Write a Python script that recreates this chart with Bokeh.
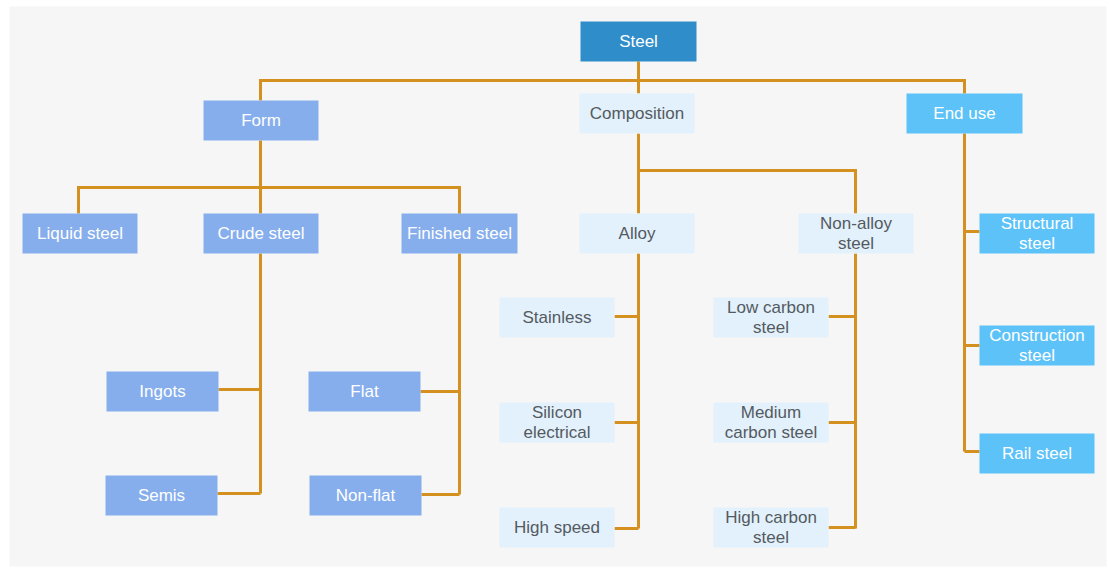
from bokeh.plotting import figure
from bokeh.models import Range1d, ColumnDataSource
from bokeh.core.properties import value
from bokeh.embed import file_html
from bokeh.resources import INLINE

# ---- data: tree nodes ----
labels = ["Steel", "Form", "Composition", "End use",
          "Liquid steel", "Crude steel", "Finished steel",
          "Alloy", "Non-alloy\nsteel",
          "Structural\nsteel", "Construction\nsteel", "Rail steel",
          "Ingots", "Semis", "Flat", "Non-flat",
          "Stainless", "Silicon\nelectrical", "High speed",
          "Low carbon\nsteel", "Medium\ncarbon steel", "High carbon\nsteel"]
parents = [None, "Steel", "Steel", "Steel",
           "Form", "Form", "Form",
           "Composition", "Composition",
           "End use", "End use", "End use",
           "Crude steel", "Crude steel", "Finished steel", "Finished steel",
           "Alloy", "Alloy", "Alloy",
           "Non-alloy\nsteel", "Non-alloy\nsteel", "Non-alloy\nsteel"]
styles = ["root", "form", "comp", "end",
          "form", "form", "form",
          "comp", "comp",
          "end", "end", "end",
          "form", "form", "form", "form",
          "comp", "comp", "comp",
          "comp", "comp", "comp"]

# ---- layout (pixel positions of box left/top) ----
box_left = [580, 203, 579, 906,
            22, 203, 401,
            579, 798,
            979, 979, 979,
            106, 105, 308, 309,
            499, 499, 499,
            713, 713, 713]
box_top = [21, 100, 93, 93,
           213, 213, 213,
           213, 213,
           213, 325, 433,
           371, 475, 371, 475,
           297, 402, 507,
           297, 402, 507]
box_w = [116, 115, 115, 116,
         115, 115, 116,
         115, 115,
         115, 115, 115,
         112, 112, 112, 112,
         115, 115, 115,
         115, 115, 115]
box_h = [40] * len(labels)

fill = {"root": "#2f8dca", "form": "#86aeec", "comp": "#e2f1fc", "end": "#5cc2f8"}
tcol = {"root": "#ffffff", "form": "#ffffff", "comp": "#555a60", "end": "#ffffff"}

# connectors: elbow paths (pixel coords)
LINE = "#d4911f"
conn_x = [[638, 638], [260, 260, 964, 964], [638, 638],
          [260, 260], [78, 78, 459, 459], [260, 260], [459, 459],
          [638, 638, 855, 855], [638, 638], [855, 855],
          [964, 964], [964, 979], [964, 979], [964, 979],
          [260, 260], [218, 260], [217, 260], [459, 459], [420, 459], [421, 459],
          [638, 638], [614, 638], [614, 638], [614, 638],
          [855, 855], [828, 855], [828, 855], [828, 855]]
conn_y = [[61, 80], [100, 80, 80, 93], [80, 93],
          [140, 187], [213, 187, 187, 213], [187, 213], [187, 213],
          [213, 170, 170, 213], [133, 170], [170, 170],
          [133, 451], [231, 231], [345, 345], [451, 451],
          [253, 493], [389, 389], [493, 493], [253, 494], [391, 391], [494, 494],
          [253, 528], [316, 316], [422, 422], [528, 528],
          [253, 528], [316, 316], [422, 422], [527, 527]]

W, H = 1109, 568
p = figure(width=W, height=H, output_backend="svg", toolbar_location=None,
           x_range=Range1d(0, W), y_range=Range1d(H, 0),
           min_border=0)
p.axis.visible = False
p.grid.visible = False
p.outline_line_color = None
p.background_fill_color = "#ffffff"
p.border_fill_color = "#ffffff"

# grey panel
p.quad(left=[9], right=[1106], top=[6], bottom=[566],
       fill_color="#f6f6f6", line_color=None)

p.multi_line(xs=conn_x, ys=conn_y, line_color=LINE, line_width=3,
             line_join="miter", line_cap="butt")

src = ColumnDataSource(dict(
    left=box_left,
    right=[l + w for l, w in zip(box_left, box_w)],
    top=box_top,
    bottom=[t + h for t, h in zip(box_top, box_h)],
    cx=[l + w / 2 for l, w in zip(box_left, box_w)],
    cy=[t + h / 2 for t, h in zip(box_top, box_h)],
    label=labels,
    fill=[fill[s] for s in styles],
    tc=[tcol[s] for s in styles],
))
p.quad(left="left", right="right", top="top", bottom="bottom", source=src,
       fill_color="fill", line_color=None)
p.text(x="cx", y="cy", text="label", source=src, text_color="tc",
       text_align="center", text_baseline="middle",
       text_font=value("Liberation Sans"), text_font_size="17px",
       text_line_height=1.1)

open("out.html", "w").write(file_html(p, INLINE))
